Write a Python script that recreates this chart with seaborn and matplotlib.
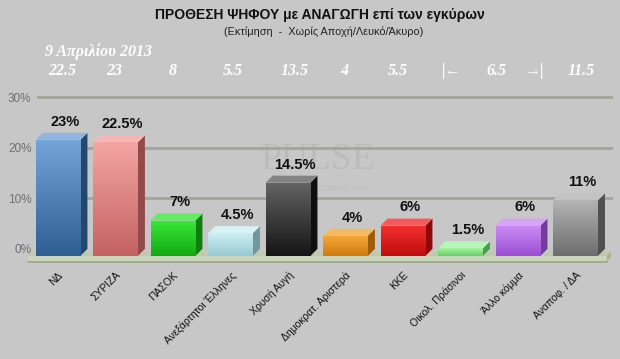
import numpy as np
import pandas as pd
import matplotlib
matplotlib.use("Agg")
import matplotlib.pyplot as plt
import seaborn as sns
from matplotlib.patches import Polygon, Rectangle
from matplotlib.transforms import ScaledTranslation, blended_transform_factory
from matplotlib import colors as mcolors

# ---------------- data ----------------
parties = ["ΝΔ", "ΣΥΡΙΖΑ", "ΠΑΣΟΚ", "Ανεξάρτητοι Έλληνες", "Χρυσή Αυγή",
           "Δημοκρατ. Αριστερά", "ΚΚΕ", "Οικολ. Πράσινοι", "Άλλο κόμμα", "Αναποφ. / ΔΑ"]
values = [23, 22.5, 7, 4.5, 14.5, 4, 6, 1.5, 6, 11]
value_labels = ["23%", "22.5%", "7%", "4.5%", "14.5%", "4%", "6%", "1.5%", "6%", "11%"]
top_colors = ["#74a4d8", "#f4a4a4", "#3ae83a", "#cdeff2", "#646464",
              "#f4a83a", "#f43030", "#a4f4a4", "#cc8cf4", "#b4b4b4"]
bot_colors = ["#2e5e92", "#c46262", "#12a812", "#98c8d2", "#141414",
              "#d07c10", "#c00c0c", "#64d064", "#9a4ed2", "#6c6c6c"]
prev_labels = ["22.5", "23", "8", "5.5", "13.5", "4", "5.5", "|←", "6.5", "→|", "11.5"]
yticks = [0, 10, 20, 30]
ytick_labels = ["0%", "10%", "20%", "30%"]
title = "ΠΡΟΘΕΣΗ ΨΗΦΟΥ με ΑΝΑΓΩΓΗ επί των εγκύρων"
subtitle = "(Εκτίμηση  -  Χωρίς Αποχή/Λευκό/Άκυρο)"
date_text = "9 Απριλίου 2013"

df = pd.DataFrame({"party": parties, "value": values})

BG = "#c7c7c7"
sns.set_theme(style="white")
plt.rcParams["font.family"] = ["Liberation Sans", "DejaVu Sans"]

W, H = 620, 359
fig = plt.figure(figsize=(W / 100, H / 100), dpi=100, facecolor=BG)
ax = fig.add_axes([37 / W, (H - 264) / H, 576 / W, (264 - 92.4) / H])
ax.set_facecolor(BG)

palette = dict(zip(parties, top_colors))
sns.barplot(data=df, x="party", y="value", hue="party", palette=palette,
            legend=False, width=0.78, ax=ax, saturation=1, linewidth=0, zorder=3)

ax.set_xlim(-0.487, 9.53)
ax.set_ylim(-3.0, 31)
ax.set_yticks(yticks)
ax.set_yticklabels(ytick_labels, color="#707070", fontsize=8.5)
ax.tick_params(axis="y", length=0, pad=4)
ax.tick_params(axis="x", length=0, pad=2)
for s in ax.spines.values():
    s.set_visible(False)
for yv in yticks[1:]:
    ax.axhline(yv, color="#a4a49c", lw=2, zorder=1)
ax.set_xlabel("")
ax.set_ylabel("")

# 3D depth (in data units)
dx = 0.122
dy = 1.39

# floor slab
patches = sorted(ax.patches, key=lambda p: p.get_x())
x0 = patches[0].get_x() - dx - 0.14
x1 = patches[-1].get_x() + patches[-1].get_width() + 0.03
floor_top = Polygon([(x0, -dy), (x1, -dy), (x1 + dx * 0.6, -dy + 0.9), (x0 + dx * 0.6, -dy + 0.9)],
                    closed=True, fc="#bfcab0", ec="none", zorder=2, clip_on=False)
ax.add_patch(floor_top)
floor_front = Rectangle((x0, -dy - 1.2), x1 - x0, 1.2, fc="#cbd5bd", ec="none",
                        zorder=2, clip_on=False)
ax.add_patch(floor_front)
ax.plot([x0, x1], [-dy - 1.2, -dy - 1.2], color="#98a688", lw=1.2, zorder=2, clip_on=False)
floor_side = Polygon([(x1, -dy - 1.2), (x1 + dx * 0.6, -dy - 0.3), (x1 + dx * 0.6, -dy + 0.9), (x1, -dy)],
                     closed=True, fc="#a8b498", ec="none", zorder=2, clip_on=False)
ax.add_patch(floor_side)

for p in patches:
    i = int(round(p.get_x() + p.get_width() / 2))
    x, w, h = p.get_x(), p.get_width(), p.get_height()
    c_top = mcolors.to_rgb(top_colors[i])
    c_bot = mcolors.to_rgb(bot_colors[i])
    # shift the front face forward (down-left)
    p.set_x(x - dx)
    p.set_y(-dy)
    p.set_zorder(4)
    fx, fy = x - dx, -dy
    # gradient on the front face
    grad = np.linspace(0, 1, 64)[:, None]
    img = np.zeros((64, 2, 3))
    for k in range(3):
        img[:, :, k] = (c_bot[k] + (c_top[k] - c_bot[k]) * grad)
    im = ax.imshow(img, extent=[fx, fx + w, fy, fy + h], origin="lower",
                   aspect="auto", zorder=4.5, interpolation="bilinear")
    im.set_clip_path(p)
    # side face
    side_col = tuple(np.array(c_bot) * 0.75)
    side = Polygon([(fx + w, fy), (x + w, 0), (x + w, h), (fx + w, fy + h)],
                   closed=True, fc=side_col, ec="none", zorder=4)
    ax.add_patch(side)
    # top face
    top_col = tuple(np.array(c_top) * 0.8 + 0.2)
    top = Polygon([(fx, fy + h), (fx + w, fy + h), (x + w, h), (x, h)],
                  closed=True, fc=top_col, ec="none", zorder=4)
    ax.add_patch(top)
    ax.annotate(value_labels[i], (x + w / 2, h), xytext=(0, 3), textcoords="offset points",
                ha="center", va="bottom", fontsize=10.5, fontweight="bold", color="#111111",
                zorder=6)

ax.set_xlim(-0.487, 9.53)
ax.set_ylim(-3.0, 31)

# x tick labels rotated
ax.set_xticks(range(len(parties)))
ax.set_xticklabels(parties, rotation=45, ha="right", rotation_mode="anchor",
                   fontsize=7.5, color="#111111")
shift = ScaledTranslation(-7 / 100, -3 / 100, fig.dpi_scale_trans)
for lbl in ax.get_xticklabels():
    lbl.set_transform(lbl.get_transform() + shift)

# watermark
ax.text(4.4, 17.6, "PULSE", ha="center", va="center", fontsize=27,
        family="Liberation Serif", color="#bcbcbc", zorder=0.5)
ax.text(4.4, 11.8, "RESEARCH & CONSULTING", ha="center", va="center", fontsize=5.5,
        color="#bdbdbd", zorder=0.5)

# header texts
fig.text(320 / W, 1 - 19.5 / H, title, ha="center", va="baseline", fontsize=10,
         fontweight="bold", color="#111111")
fig.text(324 / W, 1 - 35 / H, subtitle, ha="center", va="baseline", fontsize=7.8,
         color="#222222")
fig.text(45 / W, 1 - 56.5 / H, date_text, ha="left", va="baseline", fontsize=11.5,
         family=["Liberation Serif", "DejaVu Serif"], style="italic", fontweight="bold",
         color="white")
prev_x = [-0.05, 0.85, 1.88, 2.92, 4.0, 4.85, 5.79, 6.73, 7.5, 8.16, 8.97]
bt = blended_transform_factory(ax.transData, fig.transFigure)
for px_, lab in zip(prev_x, prev_labels):
    fig.text(px_, 1 - 75 / H, lab, ha="center", va="baseline", fontsize=11.5,
             family=["Liberation Serif", "DejaVu Serif"], style="italic",
             fontweight="bold", color="white", transform=bt)

fig.savefig("out.png", dpi=100, facecolor=BG)
